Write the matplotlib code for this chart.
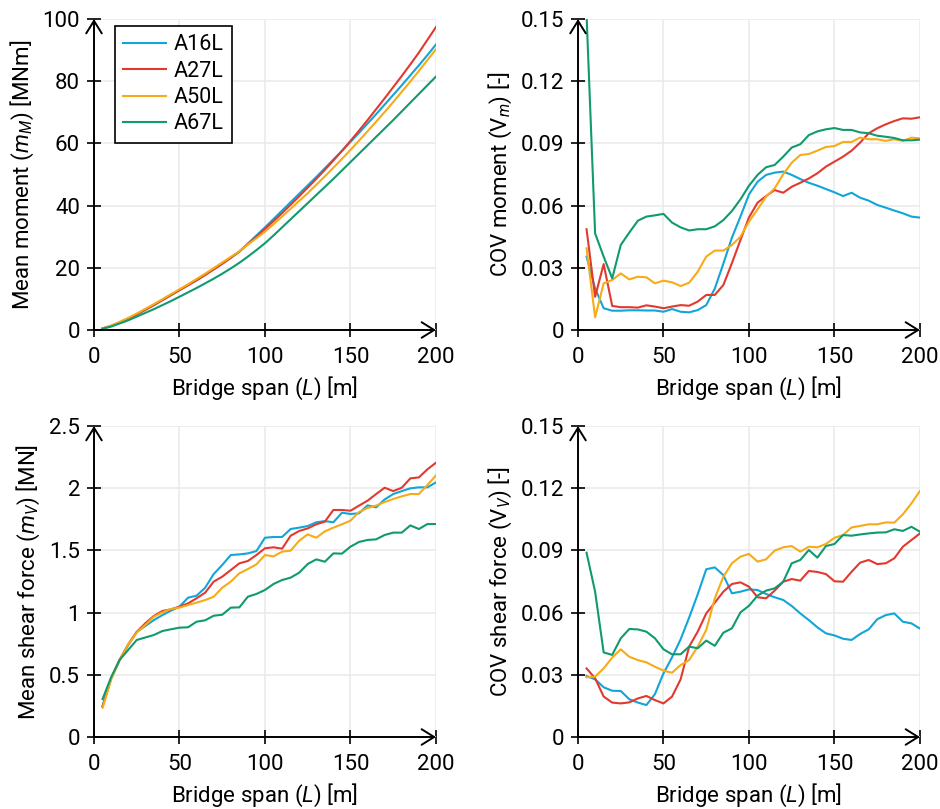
import matplotlib
matplotlib.use("Agg")
import matplotlib.pyplot as plt
from matplotlib.ticker import FuncFormatter
import numpy as np

plt.rcParams['font.family'] = ['Roboto', 'DejaVu Sans']
plt.rcParams['mathtext.fontset'] = 'custom'
plt.rcParams['mathtext.rm'] = 'Roboto'
plt.rcParams['mathtext.it'] = 'Roboto:italic'
plt.rcParams['font.size'] = 16

# bridge span [m]
span = np.arange(5, 205, 5)
names = ['A16L', 'A27L', 'A50L', 'A67L']
colors = ['#12a5d9', '#e2392f', '#f6ab17', '#0f9a6f']

# mean moment [MNm]
mom_a16 = [0.5, 1.3, 2.4, 3.6, 5.0, 6.5, 8.0, 9.6, 11.2, 12.8, 14.4, 16.0, 17.7, 19.5, 21.3, 23.2, 25.2, 27.8,
           30.4, 33.0, 35.7, 38.4, 41.1, 43.8, 46.5, 49.2, 52.0, 54.8, 57.6, 60.5, 63.4, 66.4, 69.4, 72.5,
           75.6, 78.7, 81.9, 85.1, 88.4, 91.8]
mom_a27 = [0.5, 1.3, 2.4, 3.6, 5.0, 6.5, 8.0, 9.6, 11.2, 12.8, 14.4, 16.0, 17.7, 19.5, 21.3, 23.2, 25.2, 27.6,
           30.0, 32.5, 35.0, 37.6, 40.3, 43.0, 45.8, 48.6, 51.5, 54.5, 57.6, 60.8, 64.1, 67.5, 71.0, 74.5,
           78.1, 81.7, 85.4, 89.2, 93.3, 97.4]
mom_a50 = [0.5, 1.4, 2.6, 3.9, 5.3, 6.8, 8.3, 9.9, 11.5, 13.1, 14.7, 16.4, 18.1, 19.9, 21.7, 23.5, 25.3, 27.5,
           29.5, 31.6, 34.0, 36.5, 39.0, 41.5, 44.0, 46.7, 49.4, 52.2, 55.0, 57.9, 60.9, 63.9, 67.0, 70.1,
           73.3, 76.6, 79.9, 83.3, 86.8, 90.3]
mom_a67 = [0.4, 1.1, 2.1, 3.1, 4.3, 5.5, 6.7, 8.0, 9.3, 10.7, 12.1, 13.5, 15.0, 16.5, 18.1, 19.8, 21.6, 23.6,
           25.7, 27.9, 30.4, 33.0, 35.6, 38.2, 40.8, 43.4, 46.0, 48.6, 51.3, 54.0, 56.7, 59.4, 62.1, 64.8,
           67.5, 70.3, 73.1, 75.9, 78.7, 81.5]

# COV moment [-]
cvm_a16 = [0.0354, 0.0200, 0.0105, 0.0093, 0.0093, 0.0095, 0.0095, 0.0094, 0.0094, 0.0088, 0.0101, 0.0088,
           0.0085, 0.0096, 0.0120, 0.0200, 0.0320, 0.0445, 0.0547, 0.0654, 0.0715, 0.0748, 0.0759, 0.0764,
           0.0748, 0.0728, 0.0710, 0.0696, 0.0680, 0.0664, 0.0646, 0.0662, 0.0638, 0.0624, 0.0603, 0.0590,
           0.0576, 0.0563, 0.0547, 0.0542]
cvm_a27 = [0.0486, 0.0160, 0.0318, 0.0116, 0.0110, 0.0110, 0.0108, 0.0119, 0.0113, 0.0105, 0.0113, 0.0120,
           0.0117, 0.0137, 0.0169, 0.0169, 0.0217, 0.0322, 0.0434, 0.0543, 0.0614, 0.0646, 0.0675, 0.0662,
           0.0691, 0.0710, 0.0731, 0.0756, 0.0788, 0.0812, 0.0836, 0.0865, 0.0904, 0.0949, 0.0973, 0.0992,
           0.1008, 0.1021, 0.1019, 0.1026]
cvm_a50 = [0.0394, 0.0061, 0.0225, 0.0241, 0.0273, 0.0244, 0.0257, 0.0254, 0.0225, 0.0238, 0.0230, 0.0212,
           0.0228, 0.0281, 0.0354, 0.0383, 0.0383, 0.0410, 0.0450, 0.0523, 0.0582, 0.0643, 0.0683, 0.0751,
           0.0807, 0.0844, 0.0849, 0.0865, 0.0883, 0.0887, 0.0907, 0.0907, 0.0928, 0.0920, 0.0920, 0.0912,
           0.0920, 0.0912, 0.0928, 0.0924]
cvm_a67 = [0.1520, 0.0466, 0.0354, 0.0249, 0.0410, 0.0470, 0.0527, 0.0547, 0.0553, 0.0560, 0.0518, 0.0495,
           0.0480, 0.0486, 0.0486, 0.0500, 0.0530, 0.0574, 0.0630, 0.0696, 0.0748, 0.0785, 0.0796, 0.0836,
           0.0880, 0.0896, 0.0940, 0.0958, 0.0968, 0.0974, 0.0965, 0.0965, 0.0953, 0.0949, 0.0937, 0.0932,
           0.0926, 0.0915, 0.0915, 0.0918]

# mean shear force [MN]
shr_a16 = [0.249, 0.47, 0.62, 0.74, 0.844, 0.892, 0.94, 0.98, 1.016, 1.048, 1.12, 1.136, 1.2, 1.31, 1.383,
           1.463, 1.468, 1.476, 1.495, 1.602, 1.608, 1.608, 1.672, 1.683, 1.696, 1.726, 1.736, 1.726, 1.803,
           1.793, 1.798, 1.862, 1.846, 1.91, 1.953, 1.977, 1.999, 2.007, 2.007, 2.047]
shr_a27 = [0.245, 0.47, 0.62, 0.745, 0.845, 0.914, 0.973, 1.013, 1.026, 1.048, 1.074, 1.115, 1.16, 1.249,
           1.289, 1.342, 1.396, 1.415, 1.463, 1.517, 1.525, 1.514, 1.618, 1.656, 1.677, 1.71, 1.731, 1.825,
           1.825, 1.819, 1.86, 1.9, 1.953, 2.004, 1.977, 2.004, 2.079, 2.087, 2.152, 2.205]
shr_a50 = [0.235, 0.46, 0.62, 0.745, 0.84, 0.9, 0.967, 1.002, 1.029, 1.04, 1.061, 1.08, 1.101, 1.128, 1.2,
           1.249, 1.316, 1.35, 1.388, 1.463, 1.452, 1.49, 1.498, 1.578, 1.629, 1.602, 1.653, 1.683, 1.71,
           1.739, 1.809, 1.841, 1.86, 1.889, 1.913, 1.935, 1.953, 1.953, 2.026, 2.103]
shr_a67 = [0.305, 0.48, 0.62, 0.70, 0.78, 0.80, 0.82, 0.852, 0.866, 0.879, 0.882, 0.927, 0.938, 0.975, 0.983,
           1.04, 1.042, 1.128, 1.15, 1.182, 1.23, 1.262, 1.281, 1.321, 1.391, 1.428, 1.409, 1.476, 1.474,
           1.53, 1.568, 1.584, 1.589, 1.624, 1.643, 1.643, 1.701, 1.672, 1.712, 1.712]

# COV shear force [-]
cvv_a16 = [0.0294, 0.0278, 0.0240, 0.0223, 0.0222, 0.0182, 0.0166, 0.0154, 0.0207, 0.0307, 0.0384, 0.0471,
           0.0576, 0.0688, 0.0809, 0.0818, 0.0781, 0.0693, 0.0701, 0.0712, 0.0709, 0.0690, 0.0674, 0.0661,
           0.0632, 0.0596, 0.0564, 0.0529, 0.0500, 0.0490, 0.0474, 0.0468, 0.0497, 0.0519, 0.0568, 0.0588,
           0.0596, 0.0556, 0.0548, 0.0523]
cvv_a27 = [0.0331, 0.0283, 0.0195, 0.0166, 0.0162, 0.0167, 0.0186, 0.0198, 0.0178, 0.0162, 0.0195, 0.0278,
           0.0436, 0.0508, 0.0596, 0.0648, 0.0701, 0.0738, 0.0746, 0.0725, 0.0674, 0.0669, 0.0706, 0.0749,
           0.0762, 0.0754, 0.0801, 0.0796, 0.0786, 0.0751, 0.0749, 0.0797, 0.0841, 0.0854, 0.0834, 0.0838,
           0.0862, 0.0918, 0.0950, 0.0982]
cvv_a50 = [0.0288, 0.0291, 0.0331, 0.0383, 0.0423, 0.0387, 0.0371, 0.0360, 0.0339, 0.0320, 0.0310, 0.0347,
           0.0371, 0.0436, 0.0516, 0.0669, 0.0773, 0.0838, 0.0870, 0.0883, 0.0846, 0.0857, 0.0899, 0.0915,
           0.0921, 0.0894, 0.0918, 0.0915, 0.0931, 0.0961, 0.0974, 0.1011, 0.1018, 0.1026, 0.1026, 0.1035,
           0.1034, 0.1074, 0.1127, 0.1187]
cvv_a67 = [0.0889, 0.0701, 0.0408, 0.0396, 0.0476, 0.0521, 0.0519, 0.0508, 0.0476, 0.0423, 0.0399, 0.0399,
           0.0436, 0.0428, 0.0465, 0.0440, 0.0503, 0.0524, 0.0601, 0.0633, 0.0682, 0.0706, 0.0717, 0.0749,
           0.0838, 0.0854, 0.0902, 0.0865, 0.0921, 0.0931, 0.0974, 0.0971, 0.0977, 0.0982, 0.0986, 0.0987,
           0.1002, 0.0994, 0.1014, 0.0990]


def draw_panel(ax, series, ylim, yticks, ylabel):
    for vals, name, col in zip(series, names, colors):
        ax.plot(span, vals, color=col, lw=1.5, label=name, zorder=3)
    ax.set_xlim(0, 200)
    ax.set_ylim(*ylim)
    ax.set_xticks([0, 50, 100, 150, 200])
    ax.set_yticks(yticks)
    ax.yaxis.set_major_formatter(FuncFormatter(lambda v, p: '%g' % round(v, 4)))
    ax.grid(True, color='#ebebeb', lw=1.2, zorder=0)
    ax.set_axisbelow(True)
    for s in ax.spines.values():
        s.set_visible(False)
    ax.tick_params(direction='inout', length=10, width=1.2, color='black')
    ax.tick_params(axis='x', pad=7)
    ax.tick_params(axis='y', pad=5)
    ax.set_xlabel('Bridge span ($L$) [m]', labelpad=5)
    ax.set_ylabel(ylabel, labelpad=5)
    arr = dict(arrowstyle='->,head_length=0.45,head_width=0.28', lw=1.4, color='black',
               shrinkA=0, shrinkB=0, mutation_scale=20)
    ax.annotate('', xy=(1, 0), xytext=(0, 0), xycoords='axes fraction', arrowprops=arr, zorder=5)
    ax.annotate('', xy=(0, 1), xytext=(0, 0), xycoords='axes fraction', arrowprops=arr, zorder=5)


fig = plt.figure(figsize=(9.4, 8.09), dpi=100)
w = 0.3638
h = 0.3844
ax1 = fig.add_axes([0.1, 0.5921, w, h])
ax2 = fig.add_axes([0.6149, 0.5921, w, h])
ax3 = fig.add_axes([0.1, 0.0890, w, h])
ax4 = fig.add_axes([0.6149, 0.0890, w, h])

cov_ticks = [0, 0.03, 0.06, 0.09, 0.12, 0.15]
draw_panel(ax1, [mom_a16, mom_a27, mom_a50, mom_a67], (0, 100), [0, 20, 40, 60, 80, 100],
           'Mean moment ($m_M$) [MNm]')
draw_panel(ax2, [cvm_a16, cvm_a27, cvm_a50, cvm_a67], (0, 0.15), cov_ticks,
           'COV moment (V$_m$) [-]')
draw_panel(ax3, [shr_a16, shr_a27, shr_a50, shr_a67], (0, 2.5), [0, 0.5, 1, 1.5, 2, 2.5],
           'Mean shear force ($m_V$) [MN]')
draw_panel(ax4, [cvv_a16, cvv_a27, cvv_a50, cvv_a67], (0, 0.15), cov_ticks,
           'COV shear force (V$_V$) [-]')

leg = ax1.legend(loc='upper left', bbox_to_anchor=(0.061, 0.977), borderaxespad=0, fancybox=False,
                 framealpha=1, edgecolor='black', handlelength=2.0, handletextpad=0.35,
                 labelspacing=0.25, borderpad=0.38, fontsize=15.5)
leg.get_frame().set_linewidth(1.2)

fig.savefig('out.png', dpi=100)
